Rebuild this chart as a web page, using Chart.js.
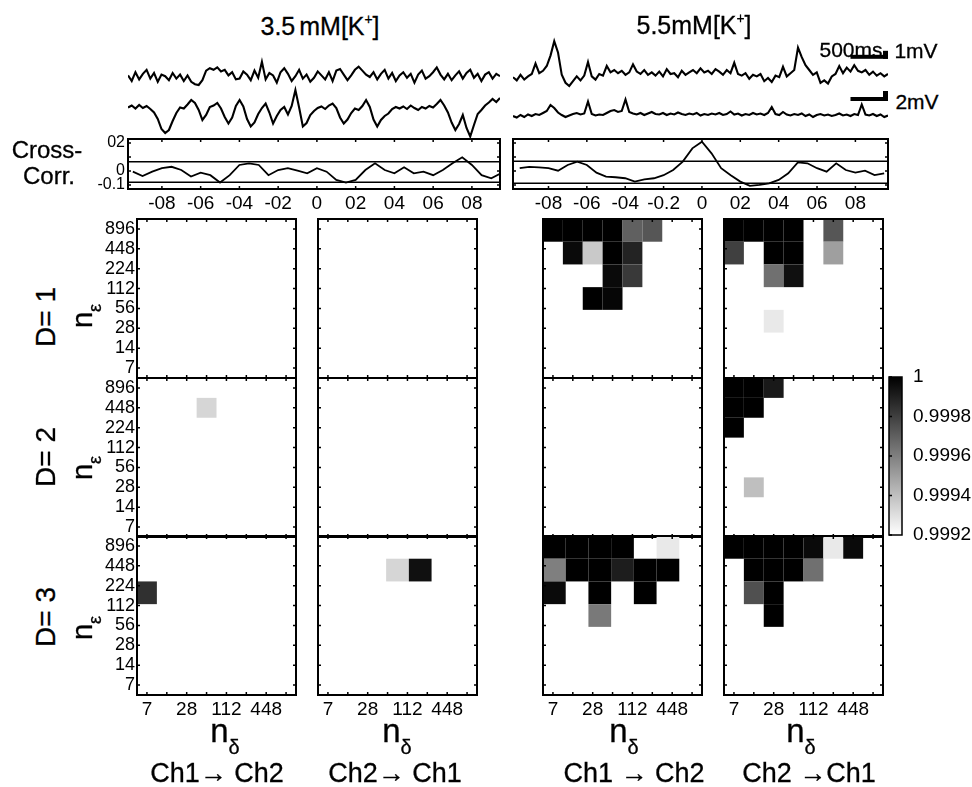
<!DOCTYPE html>
<html>
<head>
<meta charset="utf-8">
<title>Cross-correlation and interdependence maps</title>
<script src="https://cdn.jsdelivr.net/npm/chart.js@4/dist/chart.umd.min.js"></script>
<style>
  body { margin: 0; background: #fff; }
  #fig { position: relative; width: 972px; height: 787px; overflow: hidden; background: #fff;
         font-family: "Liberation Sans", Arial, Helvetica, sans-serif; color: #000; }
  #fig canvas { position: absolute; }
  .lbl { position: absolute; white-space: nowrap; line-height: 1; -webkit-text-stroke: 0.3px #000; }
  .lbl sup { font-size: 0.55em; vertical-align: 0.75em; line-height: 0; }
</style>
</head>
<body>
<div id="fig"></div>
<script>
// ---- recordings (5 s, one sample every 50 ms), mV ----
const traceTimeMs = [
  0, 50, 100, 150, 200, 250, 300, 350, 400, 450,
  500, 550, 600, 650, 700, 750, 800, 850, 900, 950,
  1000, 1050, 1100, 1150, 1200, 1250, 1300, 1350, 1400, 1450,
  1500, 1550, 1600, 1650, 1700, 1750, 1800, 1850, 1900, 1950,
  2000, 2050, 2100, 2150, 2200, 2250, 2300, 2350, 2400, 2450,
  2500, 2550, 2600, 2650, 2700, 2750, 2800, 2850, 2900, 2950,
  3000, 3050, 3100, 3150, 3200, 3250, 3300, 3350, 3400, 3450,
  3500, 3550, 3600, 3650, 3700, 3750, 3800, 3850, 3900, 3950,
  4000, 4050, 4100, 4150, 4200, 4250, 4300, 4350, 4400, 4450,
  4500, 4550, 4600, 4650, 4700, 4750, 4800, 4850, 4900, 4950,
  5000
];
// 3.5 mM [K+]
const k35Ch1 = [
  0.2, -0.5, 0.6, -0.3, 0.4, 0.9, -0.2, 0.5, -0.6, 0.3,
  0.1, -0.4, 0.5, -0.2, 0.3, -0.5, 0.2, -0.6, -0.9, -1.0,
  -0.4, 0.8, 1.1, 0.9, 1.2, 0.7, 0.9, 0.2, 0.6, -0.3,
  -0.2, 0.7, 0.3, -0.4, 0.8, -0.1, 1.9, -0.3, 0.5, 0.2,
  -0.7, 0.6, 1.1, 0.4, -0.5, 0.1, 0.9, -0.2, 0.3, -0.6,
  -0.1, 0.7, 0.2, -0.3, 0.6, -0.5, 0.8, 1.0, 0.3, -0.4,
  0.2, 0.9, 1.3, 0.8, 0.3, 0.0, 0.6, -0.3, 0.4, 0.9,
  -0.2, 0.5, -0.5, 0.2, 0.6, -0.1, 0.4, -0.7, 0.3, 0.8,
  -0.2, 0.1, 0.6, 1.2, 0.3, -0.3, 0.4, -0.4, 0.2, 0.7,
  -0.2, 0.5, 0.9, -0.1, 0.4, -0.5, 0.3, 0.6, -0.2, 0.4,
  0.1
];
const k35Ch2 = [
  0.5, 0.9, 0.3, 1.0, 0.4, 0.8, 0.2, -0.5, -1.8, -3.8,
  -4.6, -4.0, -2.2, -0.6, 0.5, 0.3, 1.1, 2.0, 1.4, 0.0,
  -2.0, -1.0, 0.6, 0.9, 1.4, 0.3, -1.4, -2.7, -1.5, 0.8,
  2.0, 0.7, -1.8, -3.3, -2.5, -0.8, 0.4, 1.3, -0.5, -2.7,
  -1.2, 0.0, 0.6, -0.9, 0.8, 4.0, 0.5, -3.3, -2.6, -1.0,
  -0.2, 0.4, 0.7, 0.2, 0.9, 1.3, 0.4, -1.5, -2.7, -1.9,
  -0.6, 0.3, 0.0, 0.8, 2.0, 0.6, -1.9, -3.3, -2.0, -1.2,
  -0.7, 0.2, 0.6, 0.3, 0.7, 0.2, 0.9, 0.4, 0.0, 0.6,
  0.3, 0.8, 0.5, 1.2, 2.0, 0.9, -0.5, -2.5, -4.0, -2.8,
  -1.0, -3.6, -5.3, -3.0, -0.8, 0.0, 0.9, 1.5, 2.2, 1.6,
  2.4
];
// 5.5 mM [K+]
const k55Ch1 = [
  0.1, -0.3, 0.4, -0.2, 0.2, 0.5, 1.8, 0.6, 0.9, 1.5,
  2.8, 4.6, 3.2, 0.4, -0.6, -1.0, -0.4, 0.2, -0.3, 0.3,
  2.0, 0.2, -0.2, 0.5, 0.3, 1.5, 0.7, 1.0, 0.6, 0.9,
  0.4, 0.7, 1.7, 0.8, 0.5, 1.0, 0.4, 0.7, 0.3, 0.8,
  0.2, 1.1, 0.5, 0.6, 0.1, 0.9, 0.4, 0.7, 1.0, 0.6,
  1.2, 0.7, 0.9, 0.5, 1.1, 0.8, 0.4, 1.0, 0.6, 1.9,
  0.5, 0.3, 0.6, -0.1, 0.4, 0.2, 0.5, -0.4, 0.0, -0.5,
  0.3, 0.1, 1.4, 0.2, 0.6, 1.0, 3.8, 2.6, 1.6, 1.0,
  0.4, 0.7, -0.6, -0.3, -0.7, 0.2, 0.5, 1.5, 0.6, 1.3,
  0.8, 1.6, 0.9, 0.7, 1.0, 0.4, 0.8, 0.3, 0.6, 0.2,
  0.5
];
const k55Ch2 = [
  0.0, -0.3, 0.2, -0.2, 0.3, 0.0, 0.4, 0.2, 0.6, 1.0,
  2.2, 1.6, 0.7, 0.2, -0.2, 0.1, 0.4, 0.6, 0.3, 0.5,
  2.9, 0.4, 0.1, 0.3, 0.2, 0.6, 1.0, 1.2, 0.8, 1.0,
  3.3, 0.8, 0.5, 0.3, 0.6, 0.2, 0.5, 0.8, 0.4, 0.3,
  0.6, 0.2, 0.5, 0.3, 0.7, 0.4, 0.2, 0.5, 0.3, 0.6,
  0.1, 0.4, 0.2, 0.5, 0.3, 0.6, 0.2, 0.4, 0.9, 0.3,
  0.5, 0.1, 0.4, 0.2, 0.6, 0.3, 0.5, 0.2, 0.6, 1.8,
  0.4, 0.2, 0.8, 0.3, 0.1, 0.4, 0.2, 0.5, 0.0, 0.3,
  -0.2, 0.2, 0.4, 0.1, 0.3, 0.0, 0.2, 0.5, 0.1, 0.3,
  0.0, 0.4, 0.2, 2.3, 0.3, 0.1, 0.4, 0.0, 0.3, -0.2,
  0.1
];
const scaleBarMs = 500;
const scaleBarCh1mV = 1;
const scaleBarCh2mV = 2;

// ---- cross-correlation vs lag (s) ----
const ccLags = [
  -0.95, -0.9, -0.85, -0.8, -0.75, -0.7, -0.65, -0.6, -0.55, -0.5,
  -0.45, -0.4, -0.35, -0.3, -0.25, -0.2, -0.15, -0.1, -0.05, 0,
  0.05, 0.1, 0.15, 0.2, 0.25, 0.3, 0.35, 0.4, 0.45, 0.5,
  0.55, 0.6, 0.65, 0.7, 0.75, 0.8, 0.85, 0.9, 0.95
];
const cc35 = [
  -0.005, -0.036, -0.005, 0.02, 0.03, 0.007, -0.04, -0.012, -0.03, -0.083,
  -0.03, 0.043, 0.055, 0.043, -0.03, 0.007, 0.02, 0.002, -0.017, 0.02,
  -0.005, -0.064, -0.083, -0.064, 0.007, 0.055, 0.007, -0.017, 0.026, -0.017,
  -0.005, -0.03, 0.007, 0.055, 0.098, 0.043, -0.03, -0.052, -0.017
];
const cc55 = [
  0.02, 0.03, 0.026, 0.02, 0.002, 0.043, 0.067, 0.043, -0.012, -0.04,
  -0.045, -0.052, -0.076, -0.06, -0.052, -0.03, 0.007, 0.067, 0.162, 0.21,
  0.126, 0.02, -0.03, -0.076, -0.107, -0.1, -0.088, -0.064, -0.017, 0.062,
  0.055, 0.02, -0.005, 0.055, 0.007, -0.012, 0.002, -0.03, -0.017
];
const cc35Bounds = [0.067, -0.08];
const cc55Bounds = [0.07, -0.088];
const ccXTicks = [-0.8, -0.6, -0.4, -0.2, 0, 0.2, 0.4, 0.6, 0.8];
const cc35XLabels = ['-08', '-06', '-04', '-02', '0', '02', '04', '06', '08'];
const cc55XLabels = ['-08', '-06', '-04', '-0.2', '0', '02', '04', '06', '08'];
const ccYTicks = [-0.1, 0, 0.1, 0.2];
const ccYLabels = ['-0.1', '0', '', '02'];

// ---- interdependence maps: rows from n_eps = 896 (top) down, columns n_delta = 7 ... ----
const nEps = [7, 14, 28, 56, 112, 224, 448, 896];
const nDelta = [7, 14, 28, 56, 112, 224, 448, 896];
const colorMin = 0.9992;
const colorMax = 1;
const colorTicks = [0.9992, 0.9994, 0.9996, 0.9998, 1];
const colorTickLabels = ['0.9992', '0.9994', '0.9996', '0.9998', '1'];
const _ = null; // below colour range (blank)

const k35Ch12D1 = [];
const k35Ch12D2 = [
  [_, _, _, _, _, _, _, _],
  [_, _, _, 0.99933, _, _, _, _],
  [_, _, _, _, _, _, _, _],
  [_, _, _, _, _, _, _, _],
  [_, _, _, _, _, _, _, _],
  [_, _, _, _, _, _, _, _],
  [_, _, _, _, _, _, _, _],
  [_, _, _, _, _, _, _, _]
];
const k35Ch12D3 = [
  [_, _, _, _, _, _, _, _],
  [_, _, _, _, _, _, _, _],
  [0.99985, _, _, _, _, _, _, _],
  [_, _, _, _, _, _, _, _],
  [_, _, _, _, _, _, _, _],
  [_, _, _, _, _, _, _, _],
  [_, _, _, _, _, _, _, _]
];
const k35Ch21D1 = [];
const k35Ch21D2 = [];
const k35Ch21D3 = [
  [_, _, _, _, _, _, _],
  [_, _, _, 0.99933, 0.99995, _, _],
  [_, _, _, _, _, _, _],
  [_, _, _, _, _, _, _],
  [_, _, _, _, _, _, _],
  [_, _, _, _, _, _, _],
  [_, _, _, _, _, _, _]
];
const k55Ch12D1 = [
  [1, 1, 1, 1, 0.9997, 0.99973, _, _],
  [_, 0.99997, 0.99937, 1, 0.99989, _, _, _],
  [_, _, _, 0.99997, 0.99982, _, _, _],
  [_, _, 1, 0.99998, _, _, _, _],
  [_, _, _, _, _, _, _, _],
  [_, _, _, _, _, _, _, _],
  [_, _, _, _, _, _, _, _]
];
const k55Ch12D2 = [];
const k55Ch12D3 = [
  [1, 1, 1, 1, _, 0.99927, _],
  [0.9996, 1, 1, 0.99991, 1, 1, _],
  [0.99997, _, 1, _, 1, _, _],
  [_, _, 0.99962, _, _, _, _],
  [_, _, _, _, _, _, _],
  [_, _, _, _, _, _, _],
  [_, _, _, _, _, _, _]
];
const k55Ch21D1 = [
  [1, 1, 1, 1, _, 0.99973, _, _],
  [0.9998, _, 1, 1, _, 0.9995, _, _],
  [_, _, 0.99965, 0.99995, _, _, _, _],
  [_, _, _, _, _, _, _, _],
  [_, _, 0.99927, _, _, _, _, _],
  [_, _, _, _, _, _, _, _],
  [_, _, _, _, _, _, _, _]
];
const k55Ch21D2 = [
  [1, 1, 0.99992, _, _, _, _, _],
  [1, 1, _, _, _, _, _, _],
  [1, _, _, _, _, _, _, _],
  [_, _, _, _, _, _, _, _],
  [_, _, _, _, _, _, _, _],
  [_, 0.9994, _, _, _, _, _, _],
  [_, _, _, _, _, _, _, _],
  [_, _, _, _, _, _, _, _]
];
const k55Ch21D3 = [
  [1, 1, 1, 1, 0.99997, 0.99927, 0.99997, _],
  [_, 1, 1, 1, 0.99965, _, _, _],
  [_, 0.99975, 1, _, _, _, _, _],
  [_, _, 1, _, _, _, _, _],
  [_, _, _, _, _, _, _, _],
  [_, _, _, _, _, _, _, _],
  [_, _, _, _, _, _, _, _]
];

const dimLabels = ['D= 1', 'D= 2', 'D= 3'];
const directionLabels = ['Ch1\u2192 Ch2', 'Ch2\u2192 Ch1', 'Ch1 \u2192 Ch2', 'Ch2 \u2192Ch1'];

// ---------------------------------------------------------------------------
const fig = document.getElementById('fig');
const FONT = '"Liberation Sans", Arial, Helvetica, sans-serif';
Chart.defaults.font.family = FONT;
Chart.defaults.color = '#000';
Chart.defaults.animation = false;
Chart.defaults.responsive = false;
Chart.defaults.plugins.legend.display = false;
Chart.defaults.plugins.tooltip.enabled = false;

function addCanvas(box, pad) {
  const c = document.createElement('canvas');
  c.width = box.w + pad.l + pad.r;
  c.height = box.h + pad.t + pad.b;
  c.style.left = (box.x - pad.l) + 'px';
  c.style.top = (box.y - pad.t) + 'px';
  c.style.width = c.width + 'px';
  c.style.height = c.height + 'px';
  fig.appendChild(c);
  return c;
}

function addLabel(html, x, y, size, rotate) {
  const d = document.createElement('div');
  d.className = 'lbl';
  d.innerHTML = html;
  d.style.left = x + 'px';
  d.style.top = y + 'px';
  d.style.fontSize = size + 'px';
  d.style.transform = 'translate(-50%, -50%)' + (rotate ? ' rotate(-90deg)' : '');
  fig.appendChild(d);
}

// fix an axis' thickness so the plot box lands where we want it
function fixedSize(size, horizontal) {
  return function (s) {
    if (horizontal) s.height = size; else s.width = size;
    s.paddingLeft = s.paddingRight = s.paddingTop = s.paddingBottom = 0;
  };
}

function gray(v) {
  const t = Math.min(1, Math.max(0, (v - colorMin) / (colorMax - colorMin)));
  const g = Math.round(255 * (1 - t));
  return 'rgb(' + g + ',' + g + ',' + g + ')';
}

// box frame with small inward ticks on all four sides
const boxTicks = {
  id: 'boxTicks',
  afterDraw(chart) {
    const { ctx, chartArea: a, scales } = chart;
    ctx.save();
    ctx.strokeStyle = '#000';
    ctx.lineWidth = 1.5;
    const len = 3;
    ctx.beginPath();
    scales.x.ticks.forEach(t => {
      const px = scales.x.getPixelForValue(t.value);
      ctx.moveTo(px, a.top); ctx.lineTo(px, a.top + len);
      ctx.moveTo(px, a.bottom); ctx.lineTo(px, a.bottom - len);
    });
    scales.y.ticks.forEach(t => {
      const py = scales.y.getPixelForValue(t.value);
      ctx.moveTo(a.left, py); ctx.lineTo(a.left + len, py);
      ctx.moveTo(a.right, py); ctx.lineTo(a.right - len, py);
    });
    ctx.stroke();
    ctx.lineWidth = 2;
    ctx.strokeRect(a.left, a.top, a.right - a.left, a.bottom - a.top);
    ctx.restore();
  }
};

// grey cells of a map; each map may have its own grid size
const heatCells = {
  id: 'heatCells',
  beforeDatasetsDraw(chart, args, opts) {
    const m = opts.matrix;
    if (!m || !m.length) return;
    const { ctx, scales: { x, y } } = chart;
    const nr = m.length, nc = m[0].length;
    const sx = nDelta.length, sy = nEps.length;
    ctx.save();
    m.forEach((row, r) => row.forEach((v, c) => {
      if (v === null) return;
      const x0 = x.getPixelForValue(-0.5 + sx * c / nc);
      const x1 = x.getPixelForValue(-0.5 + sx * (c + 1) / nc);
      const y0 = y.getPixelForValue(sy - 0.5 - sy * r / nr);
      const y1 = y.getPixelForValue(sy - 0.5 - sy * (r + 1) / nr);
      ctx.fillStyle = gray(v);
      ctx.fillRect(x0, y0, x1 - x0, y1 - y0);
    }));
    ctx.restore();
  }
};

// ---- traces ----
const scaleBars = {
  id: 'scaleBars',
  afterDatasetsDraw(chart, args, opts) {
    const { ctx, scales: { x, yA, yB } } = chart;
    const xr = x.getPixelForValue(x.max);
    const xl = x.getPixelForValue(x.max - scaleBarMs);
    ctx.save();
    ctx.fillStyle = '#000';
    [[yA, opts.levelA, scaleBarCh1mV], [yB, opts.levelB, scaleBarCh2mV]].forEach(([ys, lvl, mv]) => {
      const yb = ys.getPixelForValue(lvl);
      const yt = ys.getPixelForValue(lvl + mv);
      ctx.fillRect(xl, yb - 4, xr - xl, 4);
      ctx.fillRect(xr - 5, yt, 5, yb - yt);
    });
    ctx.restore();
  }
};

function traces(box, ch1, ch2, rangeA, rangeB, bars) {
  const cv = addCanvas(box, { l: 0, r: 2, t: 0, b: 0 });
  new Chart(cv, {
    type: 'line',
    data: {
      labels: traceTimeMs,
      datasets: [
        { data: ch1, yAxisID: 'yA', borderColor: '#000', borderWidth: 2.1, pointRadius: 0, tension: 0 },
        { data: ch2, yAxisID: 'yB', borderColor: '#000', borderWidth: 2.1, pointRadius: 0, tension: 0 }
      ]
    },
    options: {
      layout: { autoPadding: false, padding: { left: 0, right: 2, top: 0, bottom: 0 } },
      scales: {
        x: { type: 'linear', min: 0, max: 5000, display: false },
        yA: { min: rangeA[0], max: rangeA[1], display: false },
        yB: { min: rangeB[0], max: rangeB[1], display: false }
      },
      plugins: { scaleBars: bars || false }
    },
    plugins: bars ? [scaleBars] : []
  });
}

traces({ x: 128, y: 55, w: 372, h: 85 }, k35Ch1, k35Ch2, [-7.875, 2.75], [-6, 11]);
traces({ x: 513, y: 35, w: 375, h: 95 }, k55Ch1, k55Ch2, [-6.5, 5.375], [-2.8, 16.2],
  { levelA: 2.4, levelB: 3 });

// ---- cross-correlation panels ----
const ccBounds = {
  id: 'ccBounds',
  beforeDatasetsDraw(chart, args, opts) {
    const { ctx, chartArea: a, scales: { y } } = chart;
    ctx.save();
    ctx.strokeStyle = '#000';
    ctx.lineWidth = 1.5;
    ctx.beginPath();
    opts.levels.forEach(v => {
      const py = y.getPixelForValue(v);
      ctx.moveTo(a.left, py); ctx.lineTo(a.right, py);
    });
    ctx.stroke();
    ctx.restore();
  }
};

function crossCorr(box, values, bounds, xLabels, xRange, showY) {
  const pad = { l: showY ? 45 : 3, r: 3, t: 10, b: 24 };
  const cv = addCanvas(box, pad);
  new Chart(cv, {
    type: 'line',
    data: {
      labels: ccLags,
      datasets: [{ data: values, borderColor: '#000', borderWidth: 1.8, pointRadius: 0, tension: 0 }]
    },
    options: {
      layout: { autoPadding: false, padding: { left: showY ? 0 : pad.l, right: pad.r, top: pad.t, bottom: 0 } },
      scales: {
        x: {
          type: 'linear', min: xRange[0], max: xRange[1],
          grid: { display: false, drawTicks: false }, border: { display: false },
          afterBuildTicks: s => { s.ticks = ccXTicks.map(v => ({ value: v })); },
          afterFit: fixedSize(pad.b, true),
          ticks: { autoSkip: false, maxRotation: 0, padding: 3, font: { size: 19 },
                   callback: (v, i) => xLabels[i] }
        },
        y: {
          min: -0.129, max: 0.229,
          grid: { display: false, drawTicks: false }, border: { display: false },
          afterBuildTicks: s => { s.ticks = ccYTicks.map(v => ({ value: v })); },
          afterFit: fixedSize(showY ? pad.l : 0, false),
          ticks: { display: showY, autoSkip: false, padding: 3, font: { size: 16 },
                   callback: (v, i) => ccYLabels[i] }
        }
      },
      plugins: { ccBounds: { levels: bounds } }
    },
    plugins: [ccBounds, boxTicks]
  });
}

crossCorr({ x: 128, y: 139, w: 372, h: 50 }, cc35, cc35Bounds, cc35XLabels, [-0.975, 0.945], true);
crossCorr({ x: 513, y: 139, w: 375, h: 50 }, cc55, cc55Bounds, cc55XLabels, [-0.985, 0.97], false);

// ---- interdependence maps ----
const panelX = [137, 318, 543, 724];
const panelY = [219, 378, 536];
const panelW = 159, panelH = 159;
const maps = [
  [k35Ch12D1, k35Ch21D1, k55Ch12D1, k55Ch21D1],
  [k35Ch12D2, k35Ch21D2, k55Ch12D2, k55Ch21D2],
  [k35Ch12D3, k35Ch21D3, k55Ch12D3, k55Ch21D3]
];

function heatmap(row, col, matrix) {
  const showY = col === 0, showX = row === 2;
  const box = { x: panelX[col], y: panelY[row], w: panelW, h: panelH };
  const pad = { l: showY ? 42 : 3, r: 3, t: 3, b: showX ? 28 : 3 };
  const cv = addCanvas(box, pad);
  new Chart(cv, {
    type: 'scatter',
    data: { datasets: [] },
    options: {
      layout: { autoPadding: false,
                padding: { left: showY ? 0 : pad.l, right: pad.r, top: pad.t, bottom: showX ? 0 : pad.b } },
      scales: {
        x: {
          type: 'linear', min: -0.5, max: nDelta.length - 0.5,
          grid: { display: false, drawTicks: false }, border: { display: false },
          afterBuildTicks: s => { s.ticks = nDelta.map((n, i) => ({ value: i })); },
          afterFit: fixedSize(showX ? pad.b : 0, true),
          ticks: { display: showX, autoSkip: false, maxRotation: 0, padding: 3, font: { size: 19 },
                   callback: (v, i) => (i % 2 === 0 ? String(nDelta[i]) : '') }
        },
        y: {
          type: 'linear', min: -0.5, max: nEps.length - 0.5,
          grid: { display: false, drawTicks: false }, border: { display: false },
          afterBuildTicks: s => { s.ticks = nEps.map((n, i) => ({ value: i })); },
          afterFit: fixedSize(showY ? pad.l : 0, false),
          ticks: { display: showY, autoSkip: false, padding: 2, font: { size: 18 },
                   callback: (v, i) => String(nEps[i]) }
        }
      },
      plugins: { heatCells: { matrix: matrix } }
    },
    plugins: [heatCells, boxTicks]
  });
}

maps.forEach((r, ri) => r.forEach((m, ci) => heatmap(ri, ci, m)));

// ---- colour bar ----
const colorBarFill = {
  id: 'colorBarFill',
  beforeDraw(chart) {
    const { ctx, chartArea: a, scales: { y } } = chart;
    const g = ctx.createLinearGradient(0, y.getPixelForValue(colorMin), 0, y.getPixelForValue(colorMax));
    g.addColorStop(0, gray(colorMin));
    g.addColorStop(1, gray(colorMax));
    ctx.save();
    ctx.fillStyle = g;
    ctx.fillRect(a.left, a.top, a.right - a.left, a.bottom - a.top);
    ctx.strokeStyle = '#000';
    ctx.lineWidth = 1.5;
    ctx.beginPath();
    y.ticks.forEach(t => {
      const py = y.getPixelForValue(t.value);
      ctx.moveTo(a.left, py); ctx.lineTo(a.left + 3, py);
    });
    ctx.stroke();
    ctx.strokeRect(a.left, a.top, a.right - a.left, a.bottom - a.top);
    ctx.restore();
  }
};

(function colorBar() {
  const box = { x: 889, y: 377, w: 13, h: 158 };
  const pad = { l: 3, r: 80, t: 12, b: 12 };
  const cv = addCanvas(box, pad);
  new Chart(cv, {
    type: 'scatter',
    data: { datasets: [] },
    options: {
      layout: { autoPadding: false, padding: { left: pad.l, right: 0, top: pad.t, bottom: pad.b } },
      scales: {
        x: { display: false, min: 0, max: 1 },
        y: {
          position: 'right', min: colorMin, max: colorMax,
          grid: { display: false, drawTicks: false }, border: { display: false },
          afterBuildTicks: s => { s.ticks = colorTicks.map(v => ({ value: v })); },
          afterFit: fixedSize(pad.r, false),
          ticks: { autoSkip: false, padding: 11, font: { size: 19 },
                   callback: (v, i) => colorTickLabels[i] }
        }
      }
    },
    plugins: [colorBarFill]
  });
})();

// ---- text ----
addLabel('3.5<span style="margin-left:4px">mM[K<sup>+</sup>]</span>', 320, 26, 25);
addLabel('5.5mM[K<sup>+</sup>]', 694, 25, 25);
addLabel('500ms', 851, 49, 21);
addLabel('1mV', 916, 50, 21);
addLabel('2mV', 917, 101, 21);
addLabel('Cross-', 47, 150, 24);
addLabel('Corr.', 49, 176, 24);

const dimY = [317, 457, 617];
const epsY = [316, 468, 628];
dimLabels.forEach((t, i) => {
  addLabel(t, 46, dimY[i], 28, true);
  addLabel('n<span style="font-size:18px;vertical-align:-9px">\u03b5</span>', 86, epsY[i], 29, true);
});

const deltaX = [225, 397, 624, 801];
const dirX = [217, 395, 634, 809];
directionLabels.forEach((t, i) => {
  addLabel('n<span style="font-size:20px;vertical-align:-12px">\u03b4</span>', deltaX[i], 735, 33);
  addLabel(t, dirX[i], 773, 27);
});
</script>
</body>
</html>
